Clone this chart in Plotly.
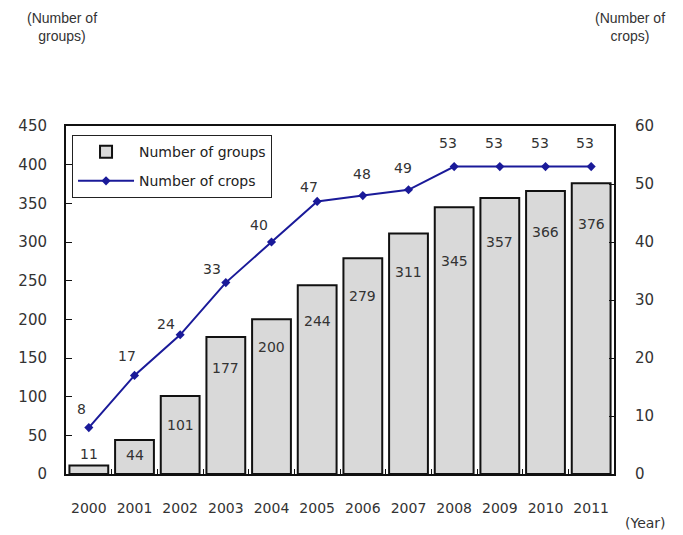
import plotly.graph_objects as go

years = ["2000", "2001", "2002", "2003", "2004", "2005", "2006", "2007", "2008", "2009", "2010", "2011"]
groups = [11, 44, 101, 177, 200, 244, 279, 311, 345, 357, 366, 376]
crops = [8, 17, 24, 33, 40, 47, 48, 49, 53, 53, 53, 53]

# label offsets in pixels (positive = below bar top)
group_label_drop = [-11, 15, 29, 31, 28, 36, 38, 39, 54, 44, 41, 41]
crop_label_rise = [19, 19, 11, 14, 17, 14, 22, 22, 24, 24, 24, 24]
crop_label_left = [7, 8, 14, 14, 13, 8, 1, 6, 6, 6, 6, 6]

FONT = "DejaVu Sans"
TFONT = "Liberation Sans"
TXT = "#333333"

fig = go.Figure()
fig.add_trace(go.Bar(
    x=years, y=groups, name="Number of groups", legendgroup="g",
    marker=dict(color="#d9d9d9", line=dict(color="#111111", width=2)),
    yaxis="y",
))
fig.add_trace(go.Scatter(
    x=years, y=crops, name="Number of crops", mode="lines+markers", legendgroup="c",
    line=dict(color="#1a1a99", width=2),
    marker=dict(symbol="diamond", size=7, color="#1a1a99"),
    yaxis="y2",
))

annotations = []
for i, (v, d) in enumerate(zip(groups, group_label_drop)):
    annotations.append(dict(x=i, y=v, xref="x", yref="y", text=str(v), showarrow=False,
                            xanchor="center", yanchor="middle",
                            yshift=-d, font=dict(family=FONT, size=14, color=TXT)))
for i, (v, r, l) in enumerate(zip(crops, crop_label_rise, crop_label_left)):
    annotations.append(dict(x=i, y=v, xref="x", yref="y2", text=str(v), showarrow=False,
                            xanchor="center", yanchor="middle",
                            yshift=r, xshift=-l, font=dict(family=FONT, size=14, color=TXT)))

pw, ph = 548, 348
annotations += [
    dict(x=(62 - 66) / pw, y=(474 - 27) / ph, xref="paper", yref="paper",
         xanchor="center", yanchor="middle",
         text="(Number of<br>groups)", showarrow=False, align="center",
         font=dict(family=TFONT, size=14, color=TXT)),
    dict(x=(630 - 66) / pw, y=(474 - 27) / ph, xref="paper", yref="paper",
         xanchor="center", yanchor="middle",
         text="(Number of<br>crops)", showarrow=False, align="center",
         font=dict(family=TFONT, size=14, color=TXT)),
    dict(x=(645 - 66) / pw, y=(474 - 523) / ph, xref="paper", yref="paper",
         xanchor="center", yanchor="middle",
         text="(Year)", showarrow=False,
         font=dict(family=FONT, size=14, color=TXT)),
]

fig.update_layout(
    annotations=annotations,
    width=683, height=535,
    margin=dict(l=66, r=69, t=126, b=61),
    paper_bgcolor="white", plot_bgcolor="white",
    bargap=0.15,
    showlegend=True,
    legend=dict(x=0.011, y=0.974, xanchor="left", yanchor="top",
                bordercolor="#222222", borderwidth=1, bgcolor="white",
                font=dict(family=FONT, size=14, color="#222222"),
                itemwidth=56, tracegroupgap=8),
    xaxis=dict(type="category", range=[-0.5, 11.5], showline=True, linecolor="#111111", linewidth=2,
               mirror=True, ticks="inside", tickson="boundaries", ticklen=5, tickcolor="#111111",
               ticklabelstandoff=20,
               tickfont=dict(family=FONT, size=14, color=TXT), showgrid=False),
    yaxis=dict(range=[0, 450], dtick=50, showline=True, linecolor="#111111", linewidth=2,
               ticks="inside", ticklen=6, tickcolor="#111111", showgrid=False, zeroline=False,
               ticklabelstandoff=14,
               tickfont=dict(family=FONT, size=15, color=TXT)),
    yaxis2=dict(range=[0, 60], dtick=10, overlaying="y", side="right", showline=True,
                linecolor="#111111", linewidth=2, ticks="inside", ticklen=5, tickcolor="#111111",
                showgrid=False, zeroline=False, ticklabelstandoff=16,
                tickfont=dict(family=FONT, size=15, color=TXT)),
)

fig.write_html("out.html")
